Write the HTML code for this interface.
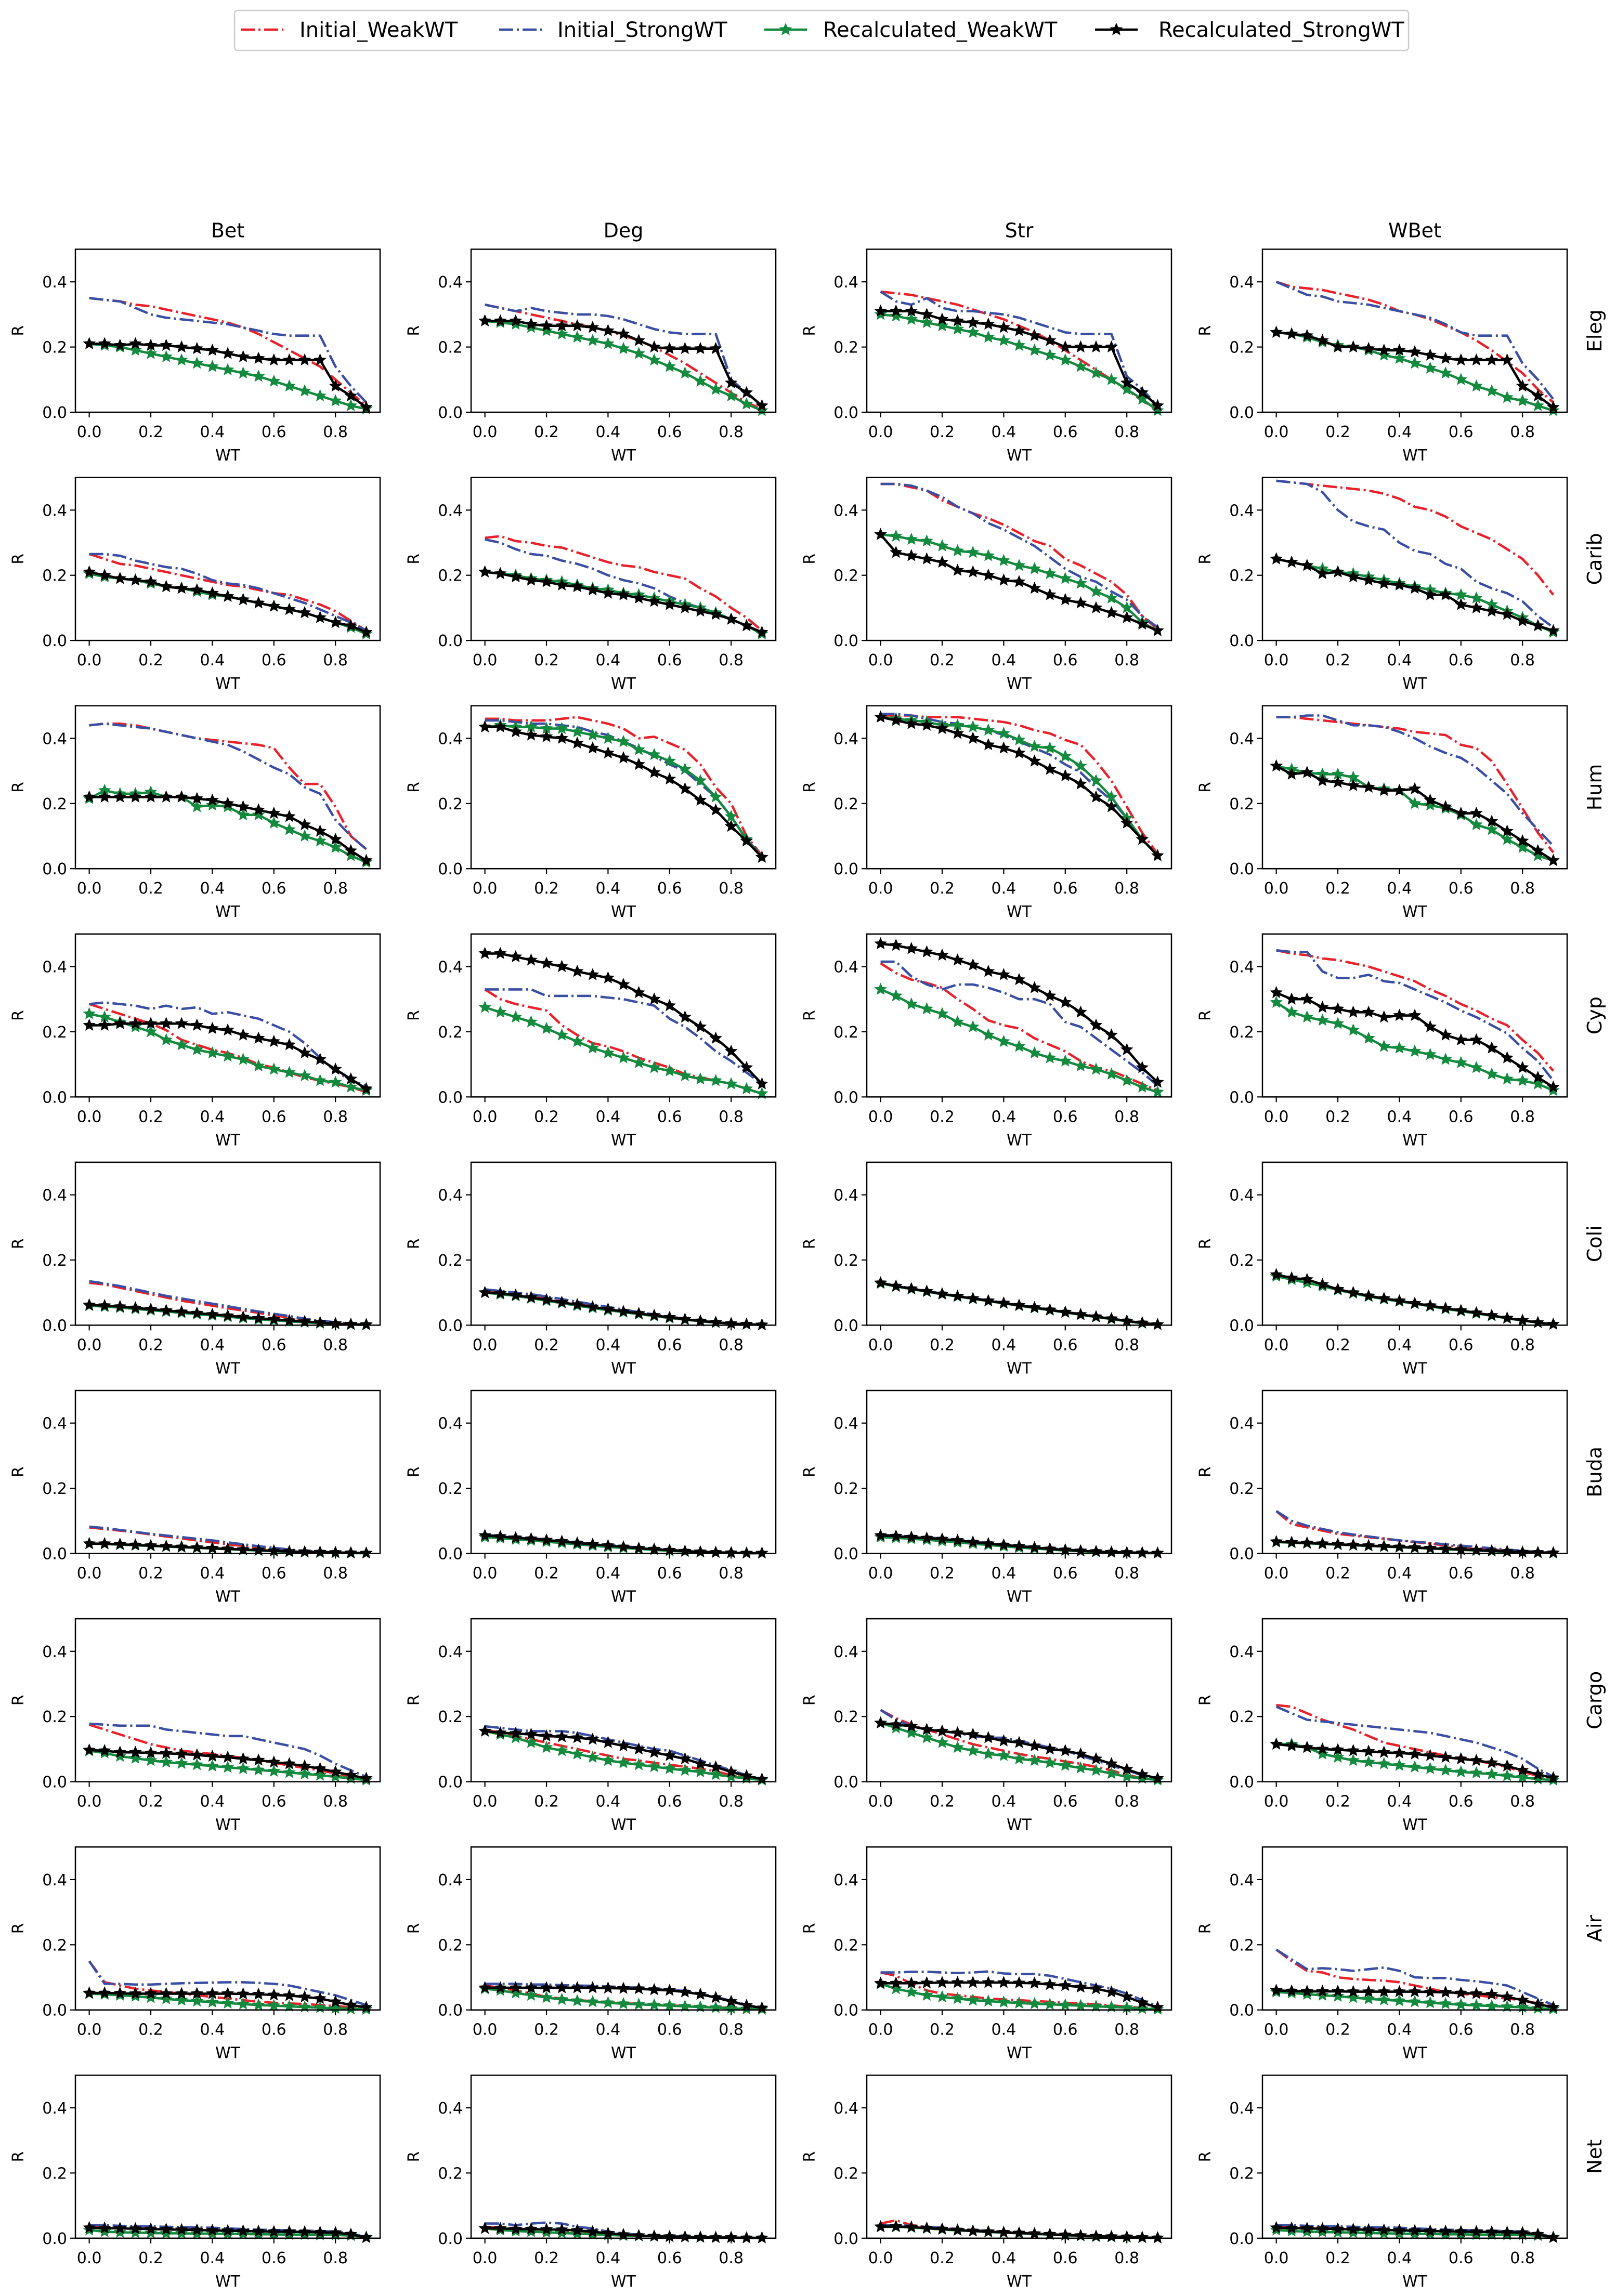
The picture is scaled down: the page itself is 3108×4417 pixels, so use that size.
<!DOCTYPE html>
<html><head><meta charset="utf-8">
<style>
html,body{margin:0;padding:0;background:#fff;}
svg{display:block;font-family:"DejaVu Sans","Liberation Sans",sans-serif;}
</style></head>
<body>
<svg id="fig" width="3108" height="4417" viewBox="0 0 3108 4417" xmlns="http://www.w3.org/2000/svg">
<g>
<rect x="451" y="20" width="2258" height="77" rx="6" fill="#fff" stroke="#cccccc" stroke-width="2.5"/>
<g>
<line x1="463" y1="57" x2="545" y2="57" stroke="#e8212a" stroke-width="4.6" stroke-dasharray="27,7,4,7"/>
<text x="576" y="71" font-size="40">Initial_WeakWT</text></g>
<g>
<line x1="960" y1="57" x2="1042" y2="57" stroke="#3a4ea3" stroke-width="4.6" stroke-dasharray="27,7,4,7"/>
<text x="1072" y="71" font-size="40">Initial_StrongWT</text></g>
<g>
<line x1="1470" y1="57" x2="1552" y2="57" stroke="#138a3e" stroke-width="4.6"/>
<path id="lgs1" d="" fill="#138a3e" stroke="#138a3e"/>
<text x="1583" y="71" font-size="40">Recalculated_WeakWT</text></g>
<g>
<line x1="2106" y1="57" x2="2188" y2="57" stroke="#000" stroke-width="4.6"/>
<path id="lgs2" d="" fill="#000" stroke="#000"/>
<text x="2228" y="71" font-size="40">Recalculated_StrongWT</text></g>
</g>
<g id="panels"></g>
</svg>
<script>
const xValues = [0,0.05,0.1,0.15,0.2,0.25,0.3,0.35,0.4,0.45,0.5,0.55,0.6,0.65,0.7,0.75,0.8,0.85,0.9];
const colNames = ["Bet","Deg","Str","WBet"];
const rowNames = ["Eleg","Carib","Hum","Cyp","Coli","Buda","Cargo","Air","Net"];
const xTicks = [0,0.2,0.4,0.6,0.8];
const xTickLabels = ["0.0","0.2","0.4","0.6","0.8"];
const yTicks = [0,0.2,0.4];
const yTickLabels = ["0.0","0.2","0.4"];
const seriesNames = ["Initial_WeakWT","Initial_StrongWT","Recalculated_WeakWT","Recalculated_StrongWT"];
// each panel: [Initial_WeakWT, Initial_StrongWT, Recalculated_WeakWT, Recalculated_StrongWT]
const ELEG_BET = [
[.35,.345,.34,.33,.325,.315,.305,.295,.285,.275,.26,.24,.215,.19,.165,.14,.10,.06,.02],
[.35,.345,.34,.32,.30,.29,.285,.28,.275,.27,.26,.25,.24,.235,.235,.235,.14,.08,.03],
[.21,.205,.2,.19,.18,.17,.16,.15,.14,.13,.12,.11,.095,.08,.065,.05,.035,.02,.01],
[.21,.21,.205,.21,.205,.205,.2,.195,.19,.18,.17,.165,.16,.16,.16,.16,.08,.05,.015]];
const ELEG_DEG = [
[.33,.32,.31,.30,.29,.28,.27,.26,.25,.235,.22,.20,.175,.15,.12,.09,.06,.03,.01],
[.33,.32,.31,.32,.31,.305,.30,.30,.295,.285,.27,.255,.245,.24,.24,.24,.10,.06,.02],
[.28,.275,.27,.26,.25,.24,.23,.22,.21,.195,.18,.16,.14,.12,.095,.07,.05,.025,.005],
[.28,.28,.28,.27,.265,.265,.265,.26,.25,.24,.22,.20,.195,.195,.195,.195,.09,.06,.02]];
const ELEG_STR = [
[.37,.365,.36,.35,.34,.33,.315,.30,.285,.265,.245,.22,.19,.16,.13,.10,.07,.035,.01],
[.37,.34,.33,.35,.32,.31,.31,.305,.30,.29,.275,.26,.245,.24,.24,.24,.11,.07,.02],
[.30,.295,.285,.275,.265,.255,.245,.23,.22,.205,.19,.175,.16,.14,.12,.10,.07,.04,.005],
[.31,.31,.31,.30,.285,.28,.275,.27,.26,.25,.235,.22,.20,.20,.20,.20,.09,.06,.02]];
const ELEG_WBET = [
[.40,.385,.38,.375,.365,.355,.345,.33,.31,.30,.285,.265,.245,.22,.19,.155,.12,.07,.03],
[.40,.38,.36,.355,.34,.335,.33,.32,.31,.30,.29,.27,.245,.235,.235,.235,.15,.10,.04],
[.245,.24,.23,.215,.205,.20,.19,.175,.165,.15,.135,.12,.10,.08,.065,.045,.035,.02,.005],
[.245,.24,.235,.22,.20,.20,.195,.19,.19,.185,.175,.165,.16,.16,.16,.16,.08,.05,.015]];
const CARIB_BET = [
[.265,.25,.235,.23,.22,.21,.20,.19,.18,.17,.165,.155,.145,.14,.125,.11,.09,.06,.03],
[.265,.265,.26,.245,.235,.225,.22,.205,.185,.175,.17,.16,.145,.13,.115,.095,.075,.055,.03],
[.205,.195,.19,.185,.175,.165,.16,.15,.14,.135,.125,.115,.105,.095,.085,.07,.055,.04,.02],
[.21,.20,.19,.185,.18,.165,.16,.155,.145,.135,.125,.115,.105,.095,.085,.07,.055,.045,.025]];
const CARIB_DEG = [
[.315,.32,.305,.30,.29,.285,.27,.255,.24,.23,.225,.21,.20,.19,.16,.135,.10,.07,.03],
[.31,.30,.28,.265,.26,.245,.235,.22,.20,.185,.175,.16,.135,.115,.10,.085,.065,.045,.025],
[.21,.205,.20,.19,.185,.18,.17,.16,.155,.145,.14,.13,.12,.11,.10,.085,.065,.045,.02],
[.21,.205,.195,.185,.18,.17,.165,.155,.145,.14,.13,.12,.11,.10,.09,.08,.065,.045,.025]];
const CARIB_STR = [
[.48,.48,.47,.46,.43,.41,.39,.375,.355,.33,.305,.29,.25,.23,.205,.18,.14,.075,.035],
[.48,.48,.475,.46,.44,.41,.39,.36,.34,.315,.29,.255,.22,.195,.18,.15,.125,.075,.04],
[.325,.32,.31,.305,.29,.275,.27,.26,.245,.23,.22,.205,.19,.175,.15,.13,.10,.055,.03],
[.325,.27,.26,.25,.24,.215,.21,.20,.185,.18,.16,.14,.125,.115,.10,.085,.07,.05,.03]];
const CARIB_WBET = [
[.49,.485,.48,.475,.47,.465,.46,.45,.435,.41,.40,.38,.35,.33,.31,.28,.25,.20,.14],
[.49,.485,.48,.455,.40,.365,.35,.34,.30,.275,.265,.235,.22,.18,.16,.145,.12,.075,.04],
[.25,.24,.23,.22,.21,.205,.195,.185,.175,.165,.155,.145,.14,.13,.11,.09,.07,.045,.025],
[.25,.24,.23,.205,.21,.195,.185,.175,.17,.16,.14,.14,.11,.10,.09,.08,.06,.045,.03]];
const HUM_BET = [
[.44,.445,.445,.44,.43,.42,.41,.40,.395,.39,.385,.38,.37,.31,.26,.26,.19,.10,.06],
[.44,.445,.44,.435,.43,.42,.41,.40,.39,.38,.36,.335,.31,.29,.25,.23,.15,.10,.06],
[.215,.24,.23,.23,.235,.22,.22,.19,.195,.19,.165,.165,.14,.12,.10,.085,.065,.04,.02],
[.22,.22,.22,.22,.22,.22,.22,.215,.21,.20,.19,.18,.17,.16,.135,.115,.09,.055,.025]];
const HUM_DEG = [
[.46,.46,.455,.455,.455,.46,.465,.455,.445,.43,.40,.405,.385,.365,.32,.25,.20,.10,.04],
[.455,.455,.45,.445,.445,.44,.435,.42,.41,.39,.37,.345,.32,.30,.26,.22,.16,.09,.04],
[.435,.44,.435,.435,.43,.43,.42,.41,.40,.39,.365,.35,.33,.305,.27,.22,.16,.09,.035],
[.435,.435,.42,.41,.405,.40,.385,.37,.355,.34,.32,.295,.275,.245,.21,.18,.13,.085,.035]];
const HUM_STR = [
[.47,.47,.47,.465,.465,.465,.46,.455,.45,.44,.425,.415,.395,.38,.33,.27,.19,.11,.045],
[.475,.475,.47,.46,.45,.445,.435,.425,.41,.39,.37,.35,.32,.295,.25,.21,.155,.09,.04],
[.465,.46,.455,.45,.44,.44,.435,.425,.415,.395,.375,.37,.345,.315,.27,.22,.155,.09,.04],
[.465,.455,.445,.44,.43,.415,.40,.38,.37,.355,.33,.305,.285,.26,.22,.19,.14,.09,.04]];
const HUM_WBET = [
[.465,.465,.46,.455,.45,.445,.44,.435,.43,.42,.415,.41,.38,.37,.33,.26,.185,.11,.05],
[.465,.465,.47,.47,.455,.44,.44,.435,.42,.40,.375,.355,.34,.31,.27,.23,.17,.12,.07],
[.315,.305,.295,.29,.29,.28,.25,.245,.24,.20,.195,.185,.165,.135,.12,.09,.065,.04,.025],
[.315,.29,.295,.27,.265,.255,.25,.24,.24,.245,.21,.19,.17,.17,.145,.115,.085,.055,.025]];
const CYP_BET = [
[.285,.27,.255,.24,.225,.205,.175,.16,.145,.135,.12,.10,.09,.075,.06,.05,.04,.03,.015],
[.285,.29,.285,.28,.27,.28,.27,.275,.255,.26,.25,.24,.22,.20,.165,.12,.08,.05,.035],
[.255,.245,.23,.215,.20,.175,.16,.145,.135,.125,.115,.095,.085,.075,.065,.05,.045,.03,.02],
[.22,.22,.225,.225,.225,.225,.225,.22,.21,.205,.19,.18,.17,.16,.135,.115,.085,.055,.025]];
const CYP_DEG = [
[.33,.30,.285,.275,.265,.22,.19,.165,.155,.14,.12,.105,.09,.07,.06,.05,.04,.025,.01],
[.33,.33,.33,.33,.31,.31,.31,.31,.305,.30,.29,.28,.24,.215,.18,.14,.11,.075,.04],
[.275,.26,.245,.23,.21,.19,.17,.15,.135,.12,.105,.09,.08,.065,.055,.05,.04,.025,.01],
[.44,.44,.43,.42,.41,.40,.385,.375,.365,.345,.32,.30,.28,.245,.215,.18,.14,.09,.04]];
const CYP_STR = [
[.41,.38,.36,.35,.335,.30,.27,.235,.22,.21,.18,.16,.14,.11,.09,.08,.06,.04,.02],
[.415,.415,.37,.345,.33,.345,.345,.335,.32,.30,.30,.285,.23,.215,.18,.145,.11,.075,.035],
[.33,.31,.285,.27,.255,.23,.215,.19,.17,.155,.135,.12,.11,.095,.085,.07,.05,.03,.015],
[.47,.465,.455,.445,.435,.42,.405,.385,.375,.36,.335,.31,.29,.26,.22,.19,.145,.09,.045]];
const CYP_WBET = [
[.45,.44,.435,.425,.42,.41,.40,.385,.37,.355,.33,.31,.285,.265,.24,.22,.175,.135,.08],
[.45,.445,.445,.385,.365,.365,.375,.355,.35,.33,.31,.29,.265,.245,.22,.195,.15,.11,.05],
[.29,.26,.245,.235,.225,.205,.18,.155,.15,.14,.13,.115,.105,.09,.07,.055,.05,.04,.02],
[.32,.30,.30,.275,.27,.26,.26,.245,.25,.25,.215,.19,.175,.175,.15,.12,.09,.06,.03]];
const COLI_BET = [
[.13,.125,.115,.105,.095,.085,.075,.068,.06,.052,.045,.038,.03,.024,.018,.012,.008,.005,.003],
[.135,.128,.12,.11,.1,.09,.082,.074,.066,.058,.05,.042,.035,.028,.02,.014,.009,.005,.003],
[.06,.057,.054,.05,.046,.042,.038,.034,.03,.026,.022,.018,.015,.012,.009,.006,.004,.002,.001],
[.062,.06,.057,.053,.049,.045,.041,.037,.033,.029,.025,.021,.018,.014,.011,.008,.005,.003,.002]];
const COLI_DEG = [
[.105,.1,.095,.088,.08,.072,.065,.058,.05,.043,.036,.03,.024,.018,.013,.009,.005,.003,.001],
[.11,.105,.1,.095,.088,.08,.072,.064,.056,.048,.04,.033,.026,.02,.014,.009,.005,.003,.001],
[.1,.095,.09,.083,.075,.068,.06,.053,.046,.04,.034,.028,.022,.017,.012,.008,.005,.003,.001],
[.1,.098,.092,.085,.078,.07,.063,.056,.049,.042,.036,.03,.024,.018,.013,.009,.005,.003,.001]];
const COLI_STR = [
[.13,.12,.112,.104,.096,.089,.082,.075,.068,.061,.054,.047,.04,.033,.026,.02,.013,.007,.002],
[.13,.121,.113,.105,.097,.09,.083,.076,.069,.062,.055,.048,.041,.034,.027,.02,.013,.007,.002],
[.128,.119,.111,.103,.095,.088,.081,.074,.067,.06,.053,.046,.039,.032,.025,.019,.012,.006,.002],
[.13,.12,.112,.104,.096,.089,.082,.075,.068,.061,.054,.047,.04,.033,.026,.02,.013,.007,.002]];
const COLI_WBET = [
[.155,.145,.14,.125,.11,.1,.09,.082,.075,.067,.06,.052,.045,.038,.03,.022,.015,.008,.003],
[.155,.145,.14,.125,.11,.1,.09,.082,.075,.067,.06,.052,.045,.038,.03,.022,.015,.008,.003],
[.15,.14,.13,.12,.108,.098,.088,.08,.073,.066,.058,.05,.043,.036,.029,.021,.014,.008,.003],
[.155,.145,.14,.125,.11,.1,.09,.082,.075,.067,.06,.052,.045,.038,.03,.022,.015,.008,.003]];
const BUDA_BET = [
[.08,.075,.07,.065,.058,.052,.046,.04,.034,.028,.023,.018,.014,.01,.007,.005,.003,.002,.001],
[.082,.078,.072,.066,.06,.055,.05,.045,.04,.034,.028,.022,.017,.012,.008,.005,.003,.002,.001],
[.03,.029,.027,.025,.023,.021,.019,.017,.015,.013,.011,.009,.007,.005,.004,.003,.002,.001,.001],
[.03,.03,.028,.026,.024,.022,.02,.018,.016,.014,.012,.01,.008,.006,.005,.004,.003,.002,.001]];
const BUDA_DEG = [
[.055,.052,.048,.045,.041,.037,.032,.028,.024,.02,.016,.013,.01,.007,.005,.003,.002,.001,.001],
[.057,.054,.05,.047,.043,.039,.034,.03,.026,.022,.018,.014,.011,.008,.006,.004,.002,.001,.001],
[.05,.047,.043,.04,.036,.032,.028,.024,.02,.017,.014,.011,.008,.006,.004,.003,.002,.001,.001],
[.055,.052,.048,.045,.041,.037,.032,.028,.024,.02,.016,.013,.01,.007,.005,.003,.002,.001,.001]];
const BUDA_STR = [
[.055,.053,.05,.047,.044,.04,.035,.03,.026,.022,.018,.014,.011,.008,.006,.004,.003,.002,.001],
[.057,.055,.052,.049,.046,.042,.037,.032,.027,.023,.019,.015,.012,.009,.006,.004,.003,.002,.001],
[.05,.048,.045,.042,.038,.034,.03,.026,.022,.018,.015,.012,.009,.007,.005,.003,.002,.001,.001],
[.055,.053,.05,.047,.044,.04,.035,.03,.026,.022,.018,.014,.011,.008,.006,.004,.003,.002,.001]];
const BUDA_WBET = [
[.13,.09,.08,.07,.06,.055,.05,.045,.04,.035,.03,.025,.02,.016,.012,.009,.006,.004,.002],
[.13,.1,.085,.075,.065,.058,.052,.046,.04,.036,.032,.028,.024,.02,.016,.012,.008,.005,.003],
[.035,.033,.031,.029,.027,.025,.023,.021,.019,.017,.015,.013,.011,.009,.007,.005,.004,.002,.001],
[.036,.034,.032,.03,.028,.026,.024,.022,.02,.018,.016,.014,.012,.01,.008,.006,.004,.003,.002]];
const CARGO_BET = [
[.175,.16,.145,.13,.115,.105,.095,.09,.085,.08,.072,.065,.058,.05,.042,.035,.025,.015,.008],
[.178,.175,.172,.172,.172,.16,.155,.15,.145,.14,.14,.13,.12,.11,.10,.08,.055,.035,.015],
[.095,.088,.078,.072,.065,.06,.056,.052,.048,.044,.04,.036,.032,.028,.024,.02,.015,.01,.005],
[.097,.095,.09,.09,.088,.087,.085,.082,.078,.075,.07,.066,.06,.055,.048,.04,.03,.02,.01]];
const CARGO_DEG = [
[.16,.15,.14,.13,.12,.11,.10,.09,.08,.07,.065,.058,.052,.046,.04,.032,.02,.012,.005],
[.17,.165,.16,.155,.155,.155,.15,.14,.13,.12,.11,.10,.095,.08,.065,.05,.035,.02,.008],
[.155,.145,.135,.12,.105,.095,.085,.075,.065,.058,.052,.046,.04,.035,.03,.022,.015,.01,.005],
[.155,.15,.148,.145,.14,.138,.135,.13,.12,.11,.10,.09,.08,.07,.055,.045,.03,.018,.008]];
const CARGO_STR = [
[.22,.195,.175,.16,.145,.13,.115,.105,.095,.085,.077,.07,.062,.055,.045,.035,.02,.012,.005],
[.22,.19,.17,.16,.155,.15,.14,.135,.135,.125,.115,.105,.095,.08,.065,.05,.035,.02,.01],
[.18,.165,.15,.135,.12,.105,.095,.085,.08,.07,.065,.058,.05,.042,.035,.025,.015,.01,.005],
[.18,.175,.17,.16,.155,.15,.145,.135,.125,.12,.11,.10,.095,.085,.07,.055,.038,.022,.01]];
const CARGO_WBET = [
[.235,.23,.21,.19,.175,.16,.14,.12,.11,.10,.09,.08,.072,.065,.055,.045,.03,.018,.01],
[.23,.21,.19,.185,.18,.175,.17,.165,.16,.155,.15,.14,.13,.12,.105,.09,.07,.04,.015],
[.115,.115,.105,.085,.075,.065,.06,.055,.05,.045,.04,.035,.03,.027,.023,.018,.013,.008,.005],
[.115,.11,.105,.1,.098,.095,.093,.09,.088,.085,.08,.075,.07,.065,.058,.048,.035,.022,.012]];
const AIR_BET = [
[.15,.085,.075,.065,.06,.055,.05,.045,.04,.035,.03,.025,.022,.02,.018,.015,.012,.008,.005],
[.15,.08,.08,.078,.078,.08,.082,.083,.084,.085,.085,.083,.08,.075,.065,.055,.045,.03,.015],
[.05,.048,.045,.042,.038,.034,.03,.027,.024,.021,.018,.015,.013,.011,.009,.007,.005,.003,.002],
[.052,.052,.051,.05,.05,.05,.05,.05,.05,.05,.049,.048,.046,.044,.04,.035,.025,.015,.008]];
const AIR_DEG = [
[.075,.068,.06,.05,.04,.035,.03,.027,.024,.021,.018,.016,.014,.012,.01,.008,.006,.004,.002],
[.08,.08,.08,.078,.078,.076,.075,.074,.072,.07,.068,.065,.062,.058,.05,.04,.028,.016,.006],
[.065,.06,.052,.045,.038,.032,.028,.025,.022,.019,.017,.015,.013,.011,.009,.007,.005,.003,.002],
[.068,.068,.068,.068,.068,.068,.068,.068,.067,.066,.065,.062,.06,.055,.048,.038,.026,.014,.006]];
const AIR_STR = [
[.115,.105,.08,.06,.05,.045,.04,.035,.032,.03,.027,.025,.022,.02,.017,.014,.01,.006,.003],
[.115,.115,.117,.117,.115,.113,.115,.118,.112,.11,.11,.105,.095,.085,.075,.065,.05,.03,.012],
[.08,.065,.055,.045,.04,.035,.03,.027,.024,.021,.019,.017,.015,.013,.011,.009,.007,.004,.002],
[.082,.082,.082,.083,.084,.084,.084,.084,.084,.083,.082,.078,.075,.07,.065,.055,.04,.022,.008]];
const AIR_WBET = [
[.185,.15,.12,.115,.1,.095,.092,.09,.085,.075,.065,.055,.05,.045,.04,.035,.03,.02,.01],
[.185,.155,.125,.128,.125,.12,.125,.13,.12,.1,.098,.098,.092,.088,.082,.075,.055,.035,.015],
[.055,.052,.048,.045,.042,.038,.034,.031,.028,.025,.022,.019,.016,.014,.012,.01,.008,.005,.003],
[.06,.058,.057,.057,.057,.056,.056,.056,.056,.056,.055,.054,.052,.05,.048,.04,.03,.018,.008]];
const NET_BET = [
[.035,.034,.033,.032,.031,.03,.029,.028,.027,.026,.025,.024,.023,.022,.021,.02,.018,.012,.003],
[.04,.04,.038,.037,.036,.035,.034,.033,.032,.03,.028,.026,.025,.024,.023,.022,.02,.015,.003],
[.025,.02,.018,.017,.016,.015,.015,.014,.014,.013,.013,.012,.012,.011,.011,.01,.01,.008,.003],
[.032,.031,.03,.029,.028,.027,.026,.025,.024,.023,.022,.021,.02,.02,.019,.018,.017,.012,.002]];
const NET_DEG = [
[.035,.033,.03,.028,.025,.022,.018,.015,.012,.01,.008,.006,.005,.004,.003,.002,.002,.001,.001],
[.045,.045,.04,.045,.048,.045,.035,.03,.02,.015,.01,.008,.006,.005,.004,.003,.002,.001,.001],
[.03,.025,.022,.02,.018,.016,.014,.012,.01,.008,.007,.006,.005,.004,.003,.002,.002,.001,.001],
[.03,.03,.028,.028,.027,.026,.024,.02,.015,.011,.008,.006,.005,.004,.003,.002,.002,.001,.001]];
const NET_STR = [
[.045,.055,.04,.035,.03,.028,.025,.022,.02,.017,.014,.012,.01,.008,.006,.004,.003,.002,.001],
[.04,.04,.038,.035,.032,.028,.025,.022,.019,.016,.013,.011,.009,.007,.005,.004,.003,.002,.001],
[.035,.035,.033,.03,.027,.024,.022,.019,.017,.015,.013,.011,.009,.007,.005,.004,.003,.002,.001],
[.035,.036,.034,.031,.028,.025,.022,.02,.018,.016,.014,.012,.01,.008,.006,.005,.004,.002,.001]];
const NET_WBET = [
[.035,.034,.033,.032,.031,.03,.029,.028,.027,.026,.025,.024,.023,.022,.021,.02,.018,.012,.003],
[.04,.04,.038,.037,.036,.035,.034,.033,.032,.03,.028,.026,.025,.024,.023,.022,.02,.015,.003],
[.025,.022,.02,.019,.018,.017,.016,.015,.014,.013,.013,.012,.012,.011,.011,.01,.01,.008,.003],
[.032,.031,.03,.029,.028,.027,.026,.025,.024,.023,.022,.021,.02,.02,.019,.018,.017,.012,.002]];

const panelData = [
[ELEG_BET,ELEG_DEG,ELEG_STR,ELEG_WBET],
[CARIB_BET,CARIB_DEG,CARIB_STR,CARIB_WBET],
[HUM_BET,HUM_DEG,HUM_STR,HUM_WBET],
[CYP_BET,CYP_DEG,CYP_STR,CYP_WBET],
[COLI_BET,COLI_DEG,COLI_STR,COLI_WBET],
[BUDA_BET,BUDA_DEG,BUDA_STR,BUDA_WBET],
[CARGO_BET,CARGO_DEG,CARGO_STR,CARGO_WBET],
[AIR_BET,AIR_DEG,AIR_STR,AIR_WBET],
[NET_BET,NET_DEG,NET_STR,NET_WBET]];

const NS = "http://www.w3.org/2000/svg";
const colors = ["#e8212a","#3a4ea3","#138a3e","#000000"];
const left0 = 145, colStep = 761, axW = 586;
const top0 = 479.5, rowStep = 439.1, axH = 313.5;
const xMin = -0.045, xMax = 0.945, yMin = 0, yMax = 0.5;

function mk(tag, attrs, parent){
  const el = document.createElementNS(NS, tag);
  for (const k in attrs) el.setAttribute(k, attrs[k]);
  if (parent) parent.appendChild(el);
  return el;
}
function starPath(cx, cy, r){
  const ri = r*0.45; let d = "";
  for (let i=0;i<10;i++){
    const a = -Math.PI/2 + i*Math.PI/5;
    const rr = i%2===0 ? r : ri;
    d += (i===0?"M":"L") + (cx+rr*Math.cos(a)).toFixed(1) + "," + (cy+rr*Math.sin(a)).toFixed(1);
  }
  return d + "Z";
}
document.getElementById("lgs1").setAttribute("d", starPath(1511,57,12));
document.getElementById("lgs2").setAttribute("d", starPath(2147,57,12));

const root = document.getElementById("panels");
for (let r=0;r<rowNames.length;r++){
  for (let c=0;c<colNames.length;c++){
    const L = left0 + c*colStep, T = top0 + r*rowStep;
    const sx = v => L + (v - xMin)/(xMax - xMin)*axW;
    const sy = v => T + axH - (v - yMin)/(yMax - yMin)*axH;
    const g = mk("g", {}, root);
    
    
    const cid = "clip"+r+"_"+c;
    const cp = mk("clipPath", {id:cid}, g);
    mk("rect", {x:L-12, y:T-12, width:axW+24, height:axH+24}, cp);
    for (let i=0;i<xTicks.length;i++){
      const x = sx(xTicks[i]);
      const tk = mk("line", {x1:x, y1:T+axH, x2:x, y2:T+axH+10, stroke:"#000", "stroke-width":2.2}, g);
      
      
      const tl = mk("text", {x:x, y:T+axH+48, "font-size":30, "text-anchor":"middle"}, g);
      tl.textContent = xTickLabels[i];
      
      
    }
    for (let i=0;i<yTicks.length;i++){
      const y = sy(yTicks[i]);
      const tk = mk("line", {x1:L-10, y1:y, x2:L, y2:y, stroke:"#000", "stroke-width":2.2}, g);
      
      
      const tl = mk("text", {x:L-16, y:y+11, "font-size":30, "text-anchor":"end"}, g);
      tl.textContent = yTickLabels[i];
      
      
    }
    const xl = mk("text", {x:L+axW/2, y:T+axH+93, "font-size":30, "text-anchor":"middle"}, g);
    xl.textContent = "WT";
    
    
    const yl = mk("text", {x:0, y:0, "font-size":30, "text-anchor":"middle", transform:"translate("+(L-100)+","+(T+axH/2)+") rotate(-90)"}, g);
    yl.textContent = "R";
    
    
    const series = panelData[r][c];
    const sg = mk("g", {"clip-path":"url(#"+cid+")"}, g);
    for (let s=0;s<4;s++){
      const vals = series[s];
      const pts = vals.map((v,i)=> sx(xValues[i]).toFixed(1)+","+sy(v).toFixed(1)).join(" ");
      const attrs = {points:pts, fill:"none", stroke:colors[s], "stroke-width":4.6, "stroke-linejoin":"round"};
      if (s<2) attrs["stroke-dasharray"] = "27,7,4,7";
      const pl = mk("polyline", attrs, sg);
      
      
      if (s>=2){
        for (let i=0;i<vals.length;i++){
          const m = mk("path", {d:starPath(sx(xValues[i]), sy(vals[i]), 11), fill:colors[s], stroke:colors[s], "stroke-width":1.5}, sg);
          
          
        }
      }
    }
    const fr = mk("rect", {x:L, y:T, width:axW, height:axH, fill:"none", stroke:"#000", "stroke-width":2.5}, g);
    
    
    if (r===0){
      const t = mk("text", {x:L+axW/2, y:T-23, "font-size":38, "text-anchor":"middle"}, g);
      t.textContent = colNames[c];
      
      
    }
    if (c===3){
      const t = mk("text", {x:0, y:0, "font-size":38, "text-anchor":"middle", transform:"translate("+(L+axW+66)+","+(T+axH/2)+") rotate(-90)"}, g);
      t.textContent = rowNames[r];
      
      
    }
  }
}
</script>
</body></html>
